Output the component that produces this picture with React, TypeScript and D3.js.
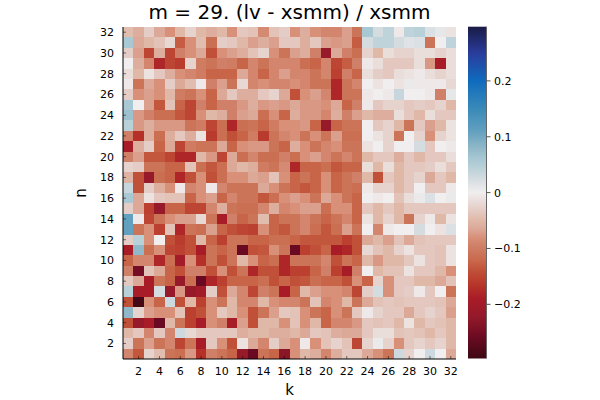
import * as d3 from 'd3';

// heatmap of (lv - xsmm) / xsmm, rows listed from n = 32 down to n = 1, columns k = 1..32
const kValues = d3.range(1, 33);
const nValues = d3.range(32, 0, -1);

const row32 = [-0.045, -0.06, -0.03, -0.065, -0.08, -0.05, -0.025, -0.05, -0.06, -0.05, -0.08, -0.035, -0.04, -0.085, -0.04, -0.03, -0.08, -0.06, -0.08, -0.09, -0.09, -0.07, -0.11, 0.06, 0.025, 0.04, -0.005, 0.04, 0.045, 0.02, 0.01, -0.01];
const row31 = [0.06, -0.065, -0.05, -0.04, -0.02, -0.13, -0.08, -0.045, -0.115, -0.03, -0.035, -0.05, -0.07, -0.06, -0.07, -0.035, -0.035, -0.06, -0.035, -0.07, -0.075, -0.07, -0.13, 0.025, 0.04, 0.04, 0.025, 0.015, 0.02, -0.11, 0.0, 0.04];
const row30 = [-0.03, -0.07, -0.15, -0.06, -0.15, -0.095, -0.08, -0.065, -0.14, -0.08, -0.07, -0.06, -0.04, -0.025, -0.08, -0.11, -0.07, -0.06, -0.095, -0.22, -0.065, -0.095, -0.115, -0.025, -0.05, -0.015, -0.025, -0.025, -0.015, -0.015, -0.025, -0.015];
const row29 = [0.0, -0.06, -0.09, -0.18, -0.15, -0.16, -0.025, -0.1, -0.11, -0.095, -0.1, -0.125, -0.09, -0.11, -0.09, -0.09, -0.09, -0.115, -0.125, -0.09, -0.15, -0.13, -0.095, -0.005, -0.015, -0.035, -0.035, -0.035, -0.015, -0.075, -0.19, -0.015];
const row28 = [-0.015, -0.05, -0.01, -0.035, -0.06, -0.08, -0.09, -0.1, -0.125, -0.125, -0.125, -0.065, -0.09, -0.125, -0.09, -0.07, -0.09, -0.09, -0.11, -0.09, -0.155, -0.095, -0.125, -0.015, -0.03, -0.035, -0.015, -0.01, -0.005, -0.015, -0.025, -0.015];
const row27 = [-0.005, -0.11, -0.065, -0.08, -0.03, -0.065, -0.045, -0.005, -0.095, -0.07, -0.11, -0.02, -0.09, -0.08, -0.09, -0.09, -0.08, -0.09, -0.11, -0.11, -0.18, -0.11, -0.09, 0.0, -0.01, 0.0, -0.01, 0.005, -0.005, -0.005, -0.005, -0.02];
const row26 = [-0.03, -0.08, -0.07, -0.08, -0.05, -0.1, -0.11, -0.08, -0.125, -0.065, -0.035, -0.06, -0.06, -0.035, -0.025, -0.065, -0.14, -0.08, -0.07, -0.09, -0.18, -0.11, -0.11, -0.005, 0.0, -0.005, 0.035, 0.0, 0.0, -0.005, -0.095, 0.01];
const row25 = [0.06, 0.0, -0.07, -0.135, -0.04, -0.125, -0.15, -0.095, -0.125, -0.095, -0.095, -0.075, -0.06, -0.075, -0.07, -0.075, -0.065, -0.075, -0.075, -0.08, -0.065, -0.125, -0.095, -0.005, -0.035, -0.025, -0.025, -0.035, -0.03, -0.035, -0.025, -0.05];
const row24 = [0.07, -0.075, -0.095, -0.115, -0.115, -0.135, -0.15, -0.08, -0.05, -0.06, -0.095, -0.07, -0.065, -0.115, -0.08, -0.125, -0.06, -0.075, -0.075, -0.09, -0.06, -0.095, -0.07, -0.05, -0.06, -0.06, -0.015, -0.035, -0.05, -0.015, -0.035, -0.035];
const row23 = [0.045, -0.075, -0.06, -0.075, -0.075, -0.075, -0.11, -0.1, -0.15, -0.115, -0.18, -0.115, -0.11, -0.125, -0.1, -0.08, -0.08, -0.075, -0.125, -0.22, -0.125, -0.11, -0.11, 0.0, -0.035, -0.025, -0.05, -0.11, -0.035, -0.07, -0.05, -0.01];
const row22 = [-0.095, -0.17, -0.06, -0.115, -0.06, -0.035, -0.06, -0.01, -0.16, -0.115, -0.14, -0.125, -0.1, -0.16, -0.11, -0.09, -0.08, -0.11, -0.08, -0.11, -0.07, -0.115, -0.115, 0.0, -0.01, -0.025, -0.11, 0.0, -0.025, -0.08, -0.025, -0.01];
const row21 = [-0.19, -0.06, -0.03, -0.125, -0.065, -0.15, -0.1, -0.11, -0.11, -0.065, -0.125, -0.08, -0.075, -0.075, -0.11, -0.125, -0.06, -0.08, -0.11, -0.09, -0.08, -0.11, -0.11, -0.01, 0.0, -0.025, 0.0, 0.0, 0.025, -0.035, 0.0, -0.005];
const row20 = [-0.095, -0.07, -0.135, -0.135, -0.15, -0.18, -0.18, -0.05, -0.075, -0.15, -0.065, -0.115, -0.09, -0.115, -0.115, -0.095, -0.115, -0.08, -0.07, -0.09, -0.11, -0.09, -0.11, -0.05, -0.035, -0.035, -0.06, -0.035, -0.05, -0.035, -0.035, -0.015];
const row19 = [-0.025, -0.03, -0.11, -0.11, -0.125, -0.125, -0.04, -0.115, -0.135, -0.115, -0.065, -0.05, -0.06, -0.1, -0.11, -0.085, -0.18, -0.125, -0.125, -0.115, -0.135, -0.125, -0.125, -0.015, -0.05, -0.015, -0.05, -0.035, -0.035, -0.03, -0.015, -0.035];
const row18 = [-0.055, -0.14, -0.22, -0.115, -0.125, -0.18, -0.14, -0.08, -0.14, -0.115, -0.08, -0.08, -0.065, -0.07, -0.04, -0.08, -0.125, -0.11, -0.125, -0.08, -0.125, -0.11, -0.095, -0.05, -0.14, -0.035, -0.05, -0.035, -0.025, -0.065, -0.035, -0.05];
const row17 = [0.035, -0.14, -0.03, -0.06, -0.08, -0.005, -0.09, -0.08, -0.005, -0.09, -0.11, -0.11, -0.11, -0.065, -0.08, -0.11, -0.125, -0.135, -0.125, -0.08, -0.125, -0.11, -0.115, -0.005, -0.025, -0.025, -0.05, -0.035, 0.0, -0.035, -0.035, -0.005];
const row16 = [0.06, -0.065, -0.01, -0.035, -0.04, -0.04, -0.125, -0.08, -0.07, -0.125, -0.09, -0.11, -0.11, -0.135, -0.115, -0.08, -0.07, -0.08, -0.11, -0.065, -0.08, -0.11, -0.125, 0.0, -0.005, 0.0, -0.04, -0.015, 0.005, 0.02, 0.0, 0.005];
const row15 = [-0.03, -0.065, -0.155, -0.22, -0.125, -0.125, -0.15, -0.15, -0.09, -0.06, -0.11, -0.115, -0.115, -0.09, -0.06, -0.09, -0.08, -0.07, -0.07, -0.115, -0.08, -0.08, -0.125, -0.035, -0.05, -0.035, -0.05, -0.035, -0.035, -0.035, -0.035, -0.035];
const row14 = [0.11, -0.005, -0.15, -0.11, -0.08, -0.07, -0.07, -0.02, -0.11, -0.19, -0.095, -0.125, -0.11, -0.045, -0.125, -0.11, -0.11, -0.09, -0.11, -0.125, -0.11, -0.09, -0.125, -0.01, -0.05, -0.025, -0.05, -0.11, -0.025, -0.005, -0.05, -0.01];
const row13 = [0.11, -0.11, -0.08, -0.155, -0.04, -0.18, -0.11, -0.115, -0.07, -0.125, -0.14, -0.15, -0.155, -0.08, -0.125, -0.135, -0.11, -0.09, -0.115, -0.135, -0.115, -0.07, -0.11, 0.0, -0.09, -0.005, 0.0, 0.0, 0.025, 0.0, -0.01, 0.02];
const row12 = [-0.03, 0.045, -0.08, 0.0, -0.14, -0.16, -0.14, -0.05, -0.125, -0.155, -0.11, -0.11, -0.125, -0.125, -0.115, -0.115, -0.125, -0.135, -0.135, -0.135, -0.135, -0.155, -0.14, -0.065, -0.05, -0.07, -0.04, -0.065, -0.04, -0.035, -0.035, -0.035];
const row11 = [-0.19, 0.08, -0.115, -0.08, -0.15, -0.155, -0.14, -0.19, -0.11, -0.125, -0.11, -0.26, -0.14, -0.135, -0.08, -0.11, -0.26, -0.155, -0.14, -0.125, -0.19, -0.18, -0.14, -0.02, -0.04, -0.05, -0.025, -0.01, -0.035, -0.035, -0.04, -0.01];
const row10 = [-0.125, -0.09, -0.09, -0.18, -0.115, -0.2, -0.08, -0.17, -0.11, -0.14, -0.11, -0.05, -0.08, -0.125, -0.115, -0.18, -0.11, -0.11, -0.11, -0.09, -0.14, -0.11, -0.125, -0.05, -0.075, -0.05, -0.05, -0.035, -0.01, -0.035, -0.04, -0.01];
const row9 = [-0.095, -0.25, -0.04, -0.065, -0.125, -0.14, -0.095, -0.095, -0.14, -0.08, -0.14, -0.11, -0.18, -0.14, -0.14, -0.18, -0.155, -0.155, -0.125, -0.095, -0.155, -0.19, -0.095, 0.0, -0.05, -0.04, -0.04, -0.01, -0.035, -0.035, -0.05, -0.08];
const row8 = [-0.035, -0.065, -0.19, -0.11, -0.125, -0.22, -0.115, -0.26, -0.18, -0.155, -0.125, -0.125, -0.125, -0.115, -0.14, -0.125, -0.14, -0.135, -0.115, -0.125, -0.125, -0.14, -0.08, -0.125, -0.025, -0.08, -0.035, -0.035, -0.05, -0.05, -0.065, -0.04];
const row7 = [0.045, -0.19, -0.19, 0.025, -0.22, -0.075, -0.22, -0.2, -0.03, -0.14, -0.065, -0.09, -0.15, -0.095, -0.11, -0.19, -0.125, -0.05, -0.07, -0.08, -0.08, -0.09, -0.15, -0.03, 0.025, -0.08, -0.035, -0.03, -0.005, -0.035, 0.0, -0.11];
const row6 = [-0.14, -0.29, -0.08, -0.125, 0.03, -0.14, -0.05, -0.155, -0.08, -0.11, -0.05, -0.09, -0.09, -0.05, -0.08, -0.09, -0.09, -0.11, -0.04, -0.09, -0.08, -0.05, -0.11, -0.065, -0.04, -0.035, -0.04, -0.035, -0.035, -0.035, -0.04, -0.065];
const row5 = [0.08, -0.025, -0.07, -0.08, -0.08, -0.04, -0.155, -0.14, -0.08, -0.035, -0.05, -0.08, -0.14, -0.11, -0.07, -0.035, -0.04, -0.08, -0.11, -0.125, -0.08, -0.11, -0.035, -0.005, -0.025, -0.035, -0.035, -0.065, -0.035, -0.025, -0.035, -0.07];
const row4 = [-0.14, -0.22, -0.19, -0.26, -0.05, -0.11, -0.155, -0.19, -0.08, -0.095, -0.19, -0.07, -0.14, -0.05, -0.05, -0.08, -0.04, -0.08, -0.05, -0.125, -0.09, -0.09, -0.075, -0.035, -0.04, -0.035, -0.05, -0.01, -0.05, -0.035, -0.04, -0.05];
const row3 = [-0.05, -0.035, -0.09, -0.035, -0.09, 0.03, -0.02, -0.035, -0.035, -0.035, -0.035, -0.06, -0.05, -0.05, -0.06, -0.06, -0.05, -0.065, -0.035, -0.04, -0.06, -0.065, -0.065, -0.035, -0.015, -0.015, -0.04, -0.035, -0.04, -0.05, -0.035, -0.05];
const row2 = [-0.03, -0.11, -0.07, -0.11, -0.09, -0.15, -0.11, -0.19, -0.035, -0.08, -0.14, -0.01, -0.065, -0.09, -0.03, -0.065, -0.08, -0.005, -0.08, -0.04, -0.025, -0.04, -0.15, -0.025, 0.005, -0.025, -0.08, -0.035, -0.025, -0.035, -0.025, -0.05];
const row1 = [-0.09, -0.135, -0.025, -0.045, -0.11, -0.115, -0.075, -0.17, -0.095, -0.11, -0.125, -0.22, -0.26, -0.11, -0.125, -0.23, -0.08, -0.05, -0.06, -0.09, -0.06, -0.035, -0.035, -0.065, -0.08, -0.11, 0.03, -0.025, 0.0, 0.03, 0.0, -0.065];

const rows = [row32, row31, row30, row29, row28, row27, row26, row25, row24, row23, row22, row21, row20, row19, row18, row17, row16, row15, row14, row13, row12, row11, row10, row9, row8, row7, row6, row5, row4, row3, row2, row1];

const axisTicks = d3.range(2, 33, 2);
const colorTicks = [-0.2, -0.1, 0, 0.1, 0.2];
const colorLimit = 0.297;

// reversed "balance" map: negative -> red, positive -> blue
const stopValues = [-0.297, -0.26, -0.22, -0.19, -0.17, -0.155, -0.14, -0.125, -0.11, -0.095, -0.08, -0.065, -0.05, -0.035, -0.02, 0, 0.025, 0.045, 0.06, 0.08, 0.11, 0.15, 0.2, 0.25, 0.297];
const stopColors = ['#3c0912', '#6a0a22', '#961a2a', '#a81c28', '#b43028', '#bc4030', '#c05038', '#c86448', '#cc7458', '#d08068', '#d89078', '#dca898', '#e0b8a8', '#e4c8c0', '#e8d8d4', '#f0eeee', '#d4dce0', '#b8d0d8', '#a8c8d4', '#90b8c8', '#62a0c0', '#3a8ab8', '#0f6bbd', '#2a3c9c', '#1a1c45'];

const W = 600;
const H = 400;
const left = 123;
const right = 456;
const top = 27;
const bottom = 359;
const font = 'DejaVu Sans, sans-serif';

export default function App() {
  const x = d3.scaleLinear().domain([0.5, 32.5]).range([left, right]);
  const y = d3.scaleLinear().domain([0.5, 32.5]).range([bottom, top]);
  const color = d3.scaleLinear<string>().domain(stopValues).range(stopColors).interpolate(d3.interpolateRgb).clamp(true);

  const cbX0 = 468;
  const cbX1 = 486.5;
  const cb = d3.scaleLinear().domain([-colorLimit, colorLimit]).range([358.5, 26.7]);
  const gradStops = d3.range(0, 1.0001, 0.01);

  const cells = rows.flatMap((row, ri) =>
    row.map((v, ci) => ({ k: kValues[ci], n: nValues[ri], v }))
  );

  return (
    <svg width={W} height={H} style={{ position: 'absolute', left: 0, top: 0, background: '#fff' }}>
      <defs>
        <linearGradient id="cbar" x1="0" y1="1" x2="0" y2="0">
          {gradStops.map((t) => (
            <stop key={t} offset={t} stopColor={color(-colorLimit + t * 2 * colorLimit)} />
          ))}
        </linearGradient>
      </defs>

      <text x={(left + right) / 2} y={19} textAnchor="middle" fontFamily={font} fontSize={20} fill="#000">
        m = 29. (lv - xsmm) / xsmm
      </text>

      <g shapeRendering="crispEdges">
        {cells.map((c) => (
          <rect
            key={`${c.k}-${c.n}`}
            x={x(c.k - 0.5)}
            y={y(c.n + 0.5)}
            width={x(c.k + 0.5) - x(c.k - 0.5) + 0.3}
            height={y(c.n - 0.5) - y(c.n + 0.5) + 0.3}
            fill={color(c.v)}
          />
        ))}
      </g>

      {/* axes */}
      <line x1={left} x2={left} y1={top} y2={bottom} stroke="#000" strokeWidth={1} />
      <line x1={left} x2={right} y1={bottom} y2={bottom} stroke="#000" strokeWidth={1} />
      {axisTicks.map((t) => (
        <g key={`xt${t}`}>
          <line x1={x(t)} x2={x(t)} y1={bottom} y2={bottom - 3} stroke="#000" strokeOpacity={0.5} />
          <text x={x(t)} y={375} textAnchor="middle" fontFamily={font} fontSize={11} fill="#000">
            {t}
          </text>
        </g>
      ))}
      {axisTicks.map((t) => (
        <g key={`yt${t}`}>
          <line x1={left} x2={left + 3} y1={y(t)} y2={y(t)} stroke="#000" strokeOpacity={0.5} />
          <text x={114} y={y(t)} dy="0.36em" textAnchor="end" fontFamily={font} fontSize={11} fill="#000">
            {t}
          </text>
        </g>
      ))}
      <text x={(left + right) / 2} y={395} textAnchor="middle" fontFamily={font} fontSize={15} fill="#000">
        k
      </text>
      <text
        transform={`translate(86,${(top + bottom) / 2}) rotate(-90)`}
        textAnchor="middle"
        fontFamily={font}
        fontSize={15}
        fill="#000"
      >
        n
      </text>

      {/* colorbar */}
      <rect x={cbX0} y={cb(colorLimit)} width={cbX1 - cbX0} height={cb(-colorLimit) - cb(colorLimit)} fill="url(#cbar)" />
      <line x1={cbX1} x2={cbX1} y1={cb(colorLimit)} y2={cb(-colorLimit)} stroke="#666" strokeWidth={1} />
      {colorTicks.map((t) => (
        <g key={`ct${t}`}>
          <line x1={cbX1} x2={cbX1 + 4} y1={cb(t)} y2={cb(t)} stroke="#555" />
          <text x={494} y={cb(t)} dy="0.36em" fontFamily={font} fontSize={11} fill="#000">
            {t === 0 ? '0' : t < 0 ? `\u2212${Math.abs(t)}` : `${t}`}
          </text>
        </g>
      ))}
    </svg>
  );
}
